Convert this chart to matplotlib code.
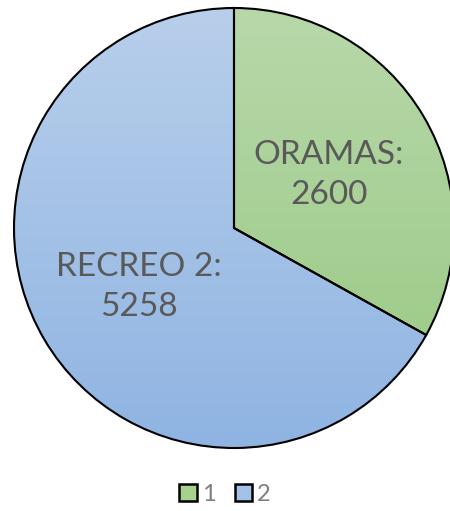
import numpy as np
import matplotlib.pyplot as plt
from matplotlib.colors import LinearSegmentedColormap
from matplotlib.patches import Patch

names = ['ORAMAS', 'RECREO 2']
values = [2600, 5258]
legend_labels = ['1', '2']

# top -> bottom gradient colours for each slice
grad = [('#b8d8aa', '#97c881'), ('#b8cfeb', '#8fb4e2')]
legend_colors = ['#a9d18e', '#a4c2e8']

fig = plt.figure(figsize=(4.5, 5.11), dpi=100)
ax = fig.add_axes([0, 0, 1, 1])

cx, cy, r = 234, 283, 220
labels = [f'{n}:\n{v}' for n, v in zip(names, values)]
wedges, texts = ax.pie(values, labels=labels, startangle=90, counterclock=False,
                       center=(cx, cy), radius=r, labeldistance=0.5,
                       frame=True,
                       wedgeprops=dict(facecolor='none', edgecolor='black', linewidth=1.5),
                       textprops=dict(fontsize=24, color='#595959', family=['Lato', 'DejaVu Sans']))
ax.set_xlim(0, 450)
ax.set_ylim(0, 511)
ax.axis('off')

g = np.linspace(0, 1, 256).reshape(-1, 1)
for w, (top, bot) in zip(wedges, grad):
    cmap = LinearSegmentedColormap.from_list('g', [top, bot])
    im = ax.imshow(g, cmap=cmap, extent=(cx - r, cx + r, cy - r, cy + r),
                   origin='upper', aspect='auto', zorder=0.5)
    im.set_clip_path(w)

for t in texts:
    t.set_ha('center')
    t.set_va('center')
    t.set_multialignment('center')
    t.set_linespacing(1.42)
    x, y = t.get_position()
    t.set_position((x, y - 3))

handles = [Patch(facecolor=c, edgecolor='black', linewidth=1.8) for c in legend_colors]
leg = fig.legend(handles, legend_labels, loc='lower center', bbox_to_anchor=(0.5, -0.03),
                 ncol=2, frameon=False, handlelength=0.75, handleheight=0.75,
                 handletextpad=0.2, columnspacing=0.8,
                 prop=dict(size=17, family=['Lato', 'DejaVu Sans']))
for t in leg.get_texts():
    t.set_color('#7f7f7f')

fig.savefig('out.png', dpi=100)
